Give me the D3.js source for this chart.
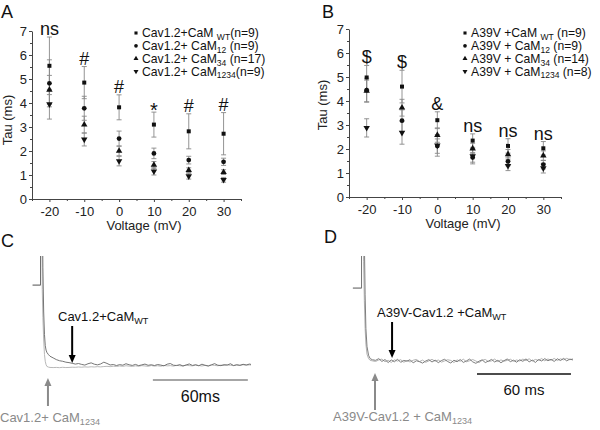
<!DOCTYPE html>
<html><head><meta charset="utf-8">
<script src="https://cdn.jsdelivr.net/npm/d3@7"></script>
<style>body{margin:0;background:#fff;} svg{display:block;font-family:"Liberation Sans",Arial,Helvetica,sans-serif;}</style>
</head><body><svg id="chart" width="600" height="430"></svg>
<script>
// ---------------- data ----------------
const voltages = [-20, -10, 0, 10, 20, 30];
const xTickValues = [-20, -10, 0, 10, 20, 30];
const xMinorTicks = [-25, -15, -5, 5, 15, 25, 35];
const yTickValues = [0, 1, 2, 3, 4, 5, 6, 7];
const yMinorTicks = [0.5, 1.5, 2.5, 3.5, 4.5, 5.5, 6.5];

// Panel A (Cav1.2)
const A_wtMean    = [5.55, 4.85, 3.82, 3.10, 2.82, 2.72];
const A_wtErr     = [1.20, 0.67, 0.52, 0.52, 0.73, 0.88];
const A_c12Mean   = [4.82, 3.78, 2.52, 1.90, 1.62, 1.55];
const A_c12Err    = [0.98, 0.50, 0.31, 0.22, 0.16, 0.15];
const A_c34Mean   = [4.55, 3.10, 2.00, 1.42, 1.20, 1.12];
const A_c34Err    = [0.60, 0.35, 0.20, 0.14, 0.10, 0.10];
const A_c1234Mean = [3.95, 2.48, 1.58, 1.15, 0.95, 0.80];
const A_c1234Err  = [0.62, 0.27, 0.20, 0.15, 0.12, 0.10];
const A_signif    = ["ns", "#", "#", "*", "#", "#"];
const A_legendMain = ["Cav1.2+CaM ", "Cav1.2+ CaM", "Cav1.2+ CaM", "Cav1.2+ CaM"];
const A_legendSub  = ["WT", "12", "34", "1234"];
const A_legendN    = ["(n=9)", " (n=9)", " (n=17)", "(n=9)"];

// Panel B (A39V)
const B_wtMean    = [4.98, 4.60, 3.20, 2.35, 2.13, 2.03];
const B_wtErr     = [0.50, 0.68, 0.35, 0.28, 0.30, 0.28];
const B_c12Mean   = [4.45, 3.18, 2.12, 1.65, 1.48, 1.35];
const B_c12Err    = [0.50, 0.45, 0.30, 0.20, 0.18, 0.18];
const B_c34Mean   = [4.42, 3.72, 2.58, 2.02, 1.78, 1.72];
const B_c34Err    = [0.45, 0.35, 0.30, 0.22, 0.20, 0.20];
const B_c1234Mean = [2.88, 2.68, 2.15, 1.70, 1.30, 1.20];
const B_c1234Err  = [0.38, 0.48, 0.45, 0.32, 0.20, 0.20];
const B_signif    = ["$", "$", "&", "ns", "ns", "ns"];
const B_legendMain = ["A39V +CaM ", "A39V + CaM", "A39V + CaM", "A39V + CaM"];
const B_legendSub  = ["WT", "12", "34", "1234"];
const B_legendN    = [" (n=9)", " (n=9)", " (n=14)", " (n=8)"];

// Panel C traces (time in ms, normalized current in arbitrary units)
const C_time = [-5,0,0,0.7,1.1,1.5,2,2.5,3,3.5,4,5,6,8,10,12,14,16,18,20,
  22,24,26,28,30,32,34,36,38,40,42,44,46,48,50,52,54,56,58,60,62,64,66,68,70,72,74,76,78,80,
  82,84,86,88,90,92,94,96,98,100,102,104,106,108,110,112,114,116,118,120,122,124,126,128,130,132,133];
const C_wt = [74,74,160,160,160,90,50,30,20,16,14,12,10.5,9,7.5,6.5,6,5.2,4.8,4.2,
  3.5,4,3.2,2.6,3.8,4.6,3.4,2.8,3.6,5.2,4.1,2.7,3.1,2.2,3.0,2.5,3.8,2.9,2.3,3.2,2.1,2.8,3.5,2.4,2.9,2.2,3.1,2.6,1.9,3.4,
  4.0,2.5,2.2,3.0,1.8,2.7,3.6,2.3,2.9,2.0,3.4,2.4,1.7,2.8,3.9,2.5,2.1,3.0,2.6,3.8,2.2,2.9,2.4,3.3,2.7,3.5,3.2];
const C_1234 = [74,74,160,160,70,45,25,12,6,3,1.5,0.8,0.5,0.4,0.5,0.3,0.6,0.4,0.5,0.7,
  0.6,0.9,0.7,1.0,0.8,1.1,0.9,1.2,1.0,1.3,1.5,1.2,1.6,1.4,1.8,1.5,2.0,1.7,1.4,1.9,1.6,2.1,1.8,1.5,2.2,1.7,2.0,1.6,2.3,1.9,
  2.1,1.7,2.4,2.0,1.8,2.5,2.1,1.9,2.6,2.2,1.8,2.4,2.1,2.7,2.3,2.0,2.6,2.2,2.8,2.4,2.1,2.7,2.3,2.9,2.5,2.8,2.6];

// Panel D traces
const D_time = [-5.5,0,0,0.5,0.9,1.3,1.8,2.3,2.8,3.5,4.5,5.5,7,
  9,11,13,15,17,19,21,23,25,27,29,31,33,35,37,39,41,43,45,47,49,51,53,55,57,59,61,63,65,67,69,71,
  73,75,77,79,81,83,85,87,89,91,93,95,97,99,101,103,105,107,109,111,113,115,117,119,121,123,125,127,129,131,133,135];
const D_wt = [66,66,160,160,160,160,110,60,30,14,6,3,2,
  1.5,3.0,0.5,2.2,-0.5,1.8,0.2,2.5,-0.3,1.4,0.8,2.0,-0.8,1.1,0.3,-1.0,0.9,2.1,0.0,1.7,-0.6,1.3,2.4,0.4,-0.9,1.6,0.2,2.2,-0.4,1.0,2.6,0.1,
  -1.2,0.7,1.9,-0.5,0.8,2.3,0.0,1.5,-0.7,1.2,2.7,0.3,1.6,-0.2,2.0,0.6,2.8,0.1,1.7,-0.4,2.2,0.9,3.0,1.1,2.4,0.5,2.9,1.3,3.2,1.0,2.6,1.8];
const D_1234 = [66,66,160,160,130,90,55,30,16,7,3,1.5,1,
  0.5,1.8,2.6,0.2,1.5,-0.4,1.9,0.8,2.1,-0.2,1.2,0.0,1.6,2.3,0.4,1.7,-0.3,1.0,2.4,0.6,1.8,-0.1,0.9,2.0,1.4,-0.5,1.9,0.7,2.5,0.2,1.1,2.2,
  0.9,-0.6,1.5,2.3,0.4,1.0,2.6,0.3,1.9,0.7,1.4,2.5,0.6,1.8,0.9,2.6,1.2,2.9,0.8,2.3,1.4,3.1,1.0,2.7,1.5,3.2,1.3,2.8,1.9,3.3,2.0,2.9];

// ---------------- drawing ----------------
const svg = d3.select("#chart");
svg.append("rect").attr("width", 600).attr("height", 430).attr("fill", "#fff");

const symbols = [
  {type: d3.symbolSquare, size: 16, rot: 0},
  {type: d3.symbolCircle, size: 18, rot: 0},
  {type: d3.symbolTriangle, size: 18, rot: 0},
  {type: d3.symbolTriangle, size: 18, rot: 180}
];

function subText(sel, x, y, main, sub, post, size, fill, anchor) {
  const t = sel.append("text").attr("x", x).attr("y", y)
    .attr("font-size", size).attr("fill", fill || "#111")
    .attr("text-anchor", anchor || "start");
  t.append("tspan").text(main);
  t.append("tspan").attr("font-size", size * 0.7).attr("dy", size * 0.22).text(sub);
  if (post) t.append("tspan").attr("font-size", size).attr("dy", -size * 0.22).text(post);
  return t;
}

function scatterPanel(opt) {
  const x = d3.scaleLinear().domain([-25, 35]).range(opt.xr);
  const y = d3.scaleLinear().domain([0, 7]).range(opt.yr);
  const g = svg.append("g");
  const axisColor = "#444";

  // minor ticks (no labels)
  const ym = g.append("g").attr("transform", `translate(${opt.xr[0]},0)`)
    .call(d3.axisLeft(y).tickValues(yMinorTicks).tickSize(2).tickFormat(""));
  ym.select(".domain").remove(); ym.selectAll("text").remove();
  const xm = g.append("g").attr("transform", `translate(0,${opt.yr[0]})`)
    .call(d3.axisBottom(x).tickValues(xMinorTicks).tickSize(2).tickFormat(""));
  xm.select(".domain").remove(); xm.selectAll("text").remove();

  // main axes
  g.append("g").attr("transform", `translate(${opt.xr[0]},0)`)
    .call(d3.axisLeft(y).tickValues(yTickValues).tickFormat(d3.format("d"))
      .tickSize(3).tickSizeOuter(0).tickPadding(2));
  g.append("g").attr("transform", `translate(0,${opt.yr[0]})`)
    .call(d3.axisBottom(x).tickValues(xTickValues).tickFormat(d => String(d).replace("\u2212", "-"))
      .tickSize(3).tickSizeOuter(0).tickPadding(5));
  g.selectAll(".domain").attr("stroke", axisColor);
  g.selectAll(".tick line").attr("stroke", axisColor);
  g.selectAll(".tick text").attr("font-size", 13).attr("fill", "#222")
    .attr("font-family", "Liberation Sans, Arial, sans-serif");

  // titles
  g.append("text").attr("transform", `translate(${opt.yTitle[0]},${opt.yTitle[1]}) rotate(-90)`)
    .attr("text-anchor", "middle").attr("font-size", 13).attr("fill", "#222").text("Tau (ms)");
  g.append("text").attr("x", opt.xTitle[0]).attr("y", opt.xTitle[1])
    .attr("text-anchor", "middle").attr("font-size", 13).attr("fill", "#222").text("Voltage (mV)");

  // error bars
  opt.series.forEach((s) => {
    voltages.forEach((v, i) => {
      const cx = x(v), m = s.mean[i], e = s.err[i];
      g.append("line").attr("x1", cx).attr("x2", cx).attr("y1", y(m - e)).attr("y2", y(m + e))
        .attr("stroke", "#888").attr("stroke-width", 0.9);
      [m - e, m + e].forEach(val => {
        g.append("line").attr("x1", cx - 2.5).attr("x2", cx + 2.5).attr("y1", y(val)).attr("y2", y(val))
          .attr("stroke", "#888").attr("stroke-width", 0.9);
      });
    });
  });
  // markers
  opt.series.forEach((s, si) => {
    const sym = d3.symbol().type(symbols[si].type).size(symbols[si].size);
    voltages.forEach((v, i) => {
      g.append("path").attr("d", sym())
        .attr("transform", `translate(${x(v)},${y(s.mean[i])}) rotate(${symbols[si].rot})`)
        .attr("fill", "#111");
    });
  });

  // significance marks
  voltages.forEach((v, i) => {
    const top = d3.max(opt.series, s => s.mean[i] + s.err[i]);
    const lab = opt.signif[i];
    const isStar = lab === "*";
    g.append("text").attr("x", x(v)).attr("y", y(top) - (isStar ? -5 : 2))
      .attr("text-anchor", "middle").attr("font-size", isStar ? 20 : 18).attr("fill", "#111").text(lab);
  });

  // legend
  opt.legendMain.forEach((lm, i) => {
    const ly = opt.legend[1] + i * 12.8;
    const sym = d3.symbol().type(symbols[i].type).size(symbols[i].size * 0.6);
    g.append("path").attr("d", sym())
      .attr("transform", `translate(${opt.legend[0]},${ly}) rotate(${symbols[i].rot})`).attr("fill", "#111");
    subText(g, opt.legend[0] + 6, ly + 4.3, lm, opt.legendSub[i], opt.legendN[i], 12.2, "#111");
  });

  // panel letter
  g.append("text").attr("x", opt.letter[0]).attr("y", opt.letter[1]).attr("font-size", 18)
    .attr("fill", "#111").text(opt.letterText);
}

scatterPanel({
  xr: [32, 241], yr: [199, 31],
  series: [
    {mean: A_wtMean, err: A_wtErr}, {mean: A_c12Mean, err: A_c12Err},
    {mean: A_c34Mean, err: A_c34Err}, {mean: A_c1234Mean, err: A_c1234Err}],
  signif: A_signif, legendMain: A_legendMain, legendSub: A_legendSub, legendN: A_legendN,
  legend: [136, 33], yTitle: [12, 120], xTitle: [144, 230], letter: [1, 18], letterText: "A"
});
scatterPanel({
  xr: [349, 561], yr: [197, 29],
  series: [
    {mean: B_wtMean, err: B_wtErr}, {mean: B_c12Mean, err: B_c12Err},
    {mean: B_c34Mean, err: B_c34Err}, {mean: B_c1234Mean, err: B_c1234Err}],
  signif: B_signif, legendMain: B_legendMain, legendSub: B_legendSub, legendN: B_legendN,
  legend: [465, 33], yTitle: [327, 105], xTitle: [463, 228], letter: [322, 18], letterText: "B"
});

// ---------------- trace panels ----------------
svg.append("clipPath").attr("id", "clipTr").append("rect")
  .attr("x", 0).attr("y", 256).attr("width", 600).attr("height", 174);

function arrow(g, x0, yTail, yTip, color, w) {
  const dir = Math.sign(yTip - yTail);
  g.append("line").attr("x1", x0).attr("x2", x0).attr("y1", yTail).attr("y2", yTip - dir * 6)
    .attr("stroke", color).attr("stroke-width", w);
  g.append("path").attr("d", `M${x0 - 3.5},${yTip - dir * 8} L${x0 + 3.5},${yTip - dir * 8} L${x0},${yTip} Z`)
    .attr("fill", color);
}

function tracePanel(opt) {
  const x = d3.scaleLinear().domain(opt.xd).range(opt.xr);
  const y = d3.scaleLinear().domain([0, 100]).range(opt.yr);
  const g = svg.append("g");
  const line = d3.line().x(d => x(d[0])).y(d => y(d[1]));
  const tg = g.append("g").attr("clip-path", "url(#clipTr)");
  opt.traces.forEach(tr => {
    tg.append("path").datum(d3.zip(opt.time, tr.values)).attr("d", line)
      .attr("fill", "none").attr("stroke", tr.color).attr("stroke-width", 0.9).attr("stroke-linejoin", "round");
  });
  arrow(g, x(opt.blackArrowT), opt.blackArrowTail, y(opt.blackArrowTipV), "#000", 2);
  arrow(g, x(opt.grayArrowT), opt.grayArrowTail, opt.grayArrowTip, "#8a8a8a", 2);
  subText(g, opt.blackLab[0], opt.blackLab[1], opt.blackLabMain, "WT", null, 13, "#111");
  subText(g, opt.grayLab[0], opt.grayLab[1], opt.grayLabMain, "1234", null, 13, "#8a8a8a");
  g.append("line").attr("x1", x(opt.barStart)).attr("x2", x(opt.barStart + 60))
    .attr("y1", opt.barY).attr("y2", opt.barY).attr("stroke", opt.barColor).attr("stroke-width", 1.3);
  g.append("text").attr("x", x(opt.barStart + 30)).attr("y", opt.barTextY).attr("text-anchor", "middle")
    .attr("font-size", opt.barFont).attr("fill", "#111").text(opt.barText);
  g.append("text").attr("x", opt.letter[0]).attr("y", opt.letter[1]).attr("font-size", 18)
    .attr("fill", "#111").text(opt.letterText);
}

tracePanel({
  xd: [-5, 133], xr: [32.6, 251], yr: [368, 256], time: C_time,
  traces: [{values: C_1234, color: "#b0b0b0"}, {values: C_wt, color: "#666"}],
  blackArrowT: 20, blackArrowTail: 326, blackArrowTipV: 4.5,
  grayArrowT: 4.7, grayArrowTail: 406, grayArrowTip: 378,
  blackLab: [58, 321], blackLabMain: "Cav1.2+CaM",
  grayLab: [0, 422], grayLabMain: "Cav1.2+ CaM",
  barStart: 71, barY: 380, barColor: "#888", barTextY: 402, barFont: 16, barText: "60ms",
  letter: [1, 247], letterText: "C"
});
tracePanel({
  xd: [-5.5, 135], xr: [352.9, 573], yr: [362, 250], time: D_time,
  traces: [{values: D_1234, color: "#aaa"}, {values: D_wt, color: "#707070"}],
  blackArrowT: 19.5, blackArrowTail: 322, blackArrowTipV: 3.5,
  grayArrowT: 8.6, grayArrowTail: 410, grayArrowTip: 373,
  blackLab: [377, 317], blackLabMain: "A39V-Cav1.2 +CaM",
  grayLab: [333, 421], grayLabMain: "A39V-Cav1.2 + CaM",
  barStart: 73.7, barY: 374, barColor: "#111", barTextY: 395, barFont: 15, barText: "60 ms",
  letter: [324, 243], letterText: "D"
});
</script></body></html>
